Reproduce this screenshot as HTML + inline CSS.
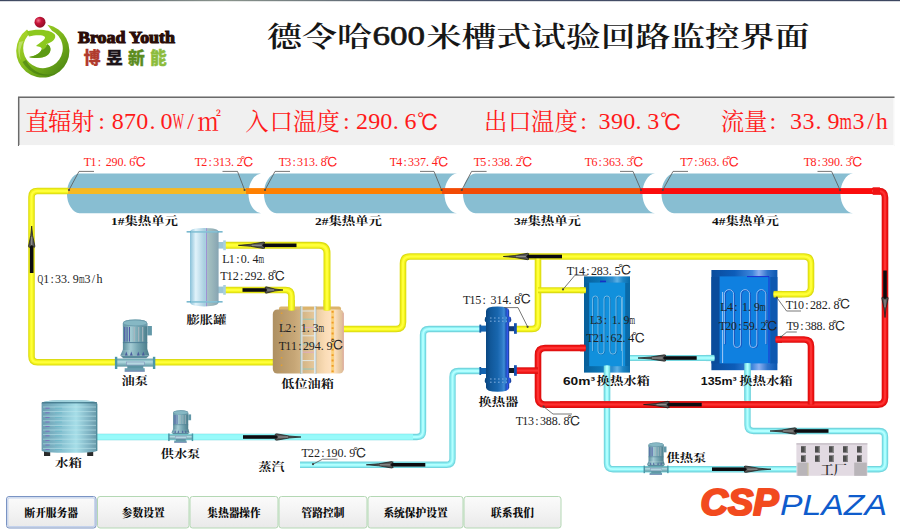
<!DOCTYPE html>
<html lang="zh-CN">
<head>
<meta charset="utf-8">
<title>德令哈600米槽式试验回路监控界面</title>
<style>
html,body{margin:0;padding:0;background:#fff;}
body{width:900px;height:530px;overflow:hidden;}
svg{display:block;}
</style>
</head>
<body>
<svg width="900" height="530" viewBox="0 0 900 530">
<rect width="900" height="530" fill="#ffffff"/>
<defs>
<linearGradient id="gExp" x1="0" x2="1" y1="0" y2="0">
 <stop offset="0" stop-color="#88c0d8"/><stop offset="0.2" stop-color="#e0f2fa"/><stop offset="0.5" stop-color="#a9cfe0"/>
 <stop offset="0.555" stop-color="#a9cfe0"/><stop offset="0.57" stop-color="#9c84d8"/><stop offset="0.6" stop-color="#a6c2c4"/><stop offset="0.75" stop-color="#9cb8bc"/><stop offset="1" stop-color="#86a4b2"/>
</linearGradient>
<linearGradient id="gOil" x1="0" x2="1" y1="0" y2="0">
 <stop offset="0" stop-color="#ae9062"/><stop offset="0.3" stop-color="#c6a676"/><stop offset="0.55" stop-color="#e2c496"/>
 <stop offset="0.74" stop-color="#fadcb6"/><stop offset="0.86" stop-color="#ffe4c6"/><stop offset="0.94" stop-color="#e8caa2"/><stop offset="1" stop-color="#dcb898"/>
</linearGradient>
<linearGradient id="gHE" x1="0" x2="1" y1="0" y2="0">
 <stop offset="0" stop-color="#0a4680"/><stop offset="0.2" stop-color="#11589a"/><stop offset="0.5" stop-color="#1866ae"/>
 <stop offset="0.68" stop-color="#2c78c4"/><stop offset="0.78" stop-color="#3e8ed6"/><stop offset="0.86" stop-color="#1c54b4"/><stop offset="0.93" stop-color="#3458ec"/><stop offset="0.97" stop-color="#1c44b0"/><stop offset="1" stop-color="#0a3474"/>
</linearGradient>
<linearGradient id="gT60" x1="0" x2="1" y1="0" y2="0">
 <stop offset="0" stop-color="#07609c"/><stop offset="0.35" stop-color="#0b74b4"/><stop offset="0.62" stop-color="#2f8fd0"/>
 <stop offset="0.72" stop-color="#5fb0e4"/><stop offset="0.85" stop-color="#1c84c4"/><stop offset="1" stop-color="#0a6aa8"/>
</linearGradient>
<linearGradient id="gT135" x1="0" x2="1" y1="0" y2="0">
 <stop offset="0" stop-color="#0a4c9c"/><stop offset="0.35" stop-color="#0d5cb8"/><stop offset="0.62" stop-color="#3f86dc"/>
 <stop offset="0.72" stop-color="#8cb0f0"/><stop offset="0.85" stop-color="#2f74cc"/><stop offset="1" stop-color="#0c58b0"/>
</linearGradient>
<linearGradient id="gPump" x1="0" x2="1" y1="0" y2="0">
 <stop offset="0" stop-color="#5a8c9c"/><stop offset="0.32" stop-color="#a4ccd4"/><stop offset="0.6" stop-color="#78a8b4"/><stop offset="1" stop-color="#4c7e8c"/>
</linearGradient>
<linearGradient id="gPumpH" x1="0" x2="0" y1="0" y2="1">
 <stop offset="0" stop-color="#5e9aa6"/><stop offset="0.4" stop-color="#b4dce2"/><stop offset="1" stop-color="#5a94a0"/>
</linearGradient>
<linearGradient id="gWT" x1="0" x2="1" y1="0" y2="0">
 <stop offset="0" stop-color="#6a9cb0"/><stop offset="0.35" stop-color="#86c0d0"/><stop offset="0.62" stop-color="#a6dee8"/><stop offset="0.85" stop-color="#80b4c4"/><stop offset="1" stop-color="#6898a8"/>
</linearGradient>
<linearGradient id="gBtn" x1="0" x2="0" y1="0" y2="1">
 <stop offset="0" stop-color="#fbfbfb"/><stop offset="0.5" stop-color="#f3f3f3"/><stop offset="1" stop-color="#e9e9e9"/>
</linearGradient>
<linearGradient id="gRing" x1="0" x2="1" y1="0" y2="1">
 <stop offset="0" stop-color="#b6e02c"/><stop offset="0.5" stop-color="#7fb81c"/><stop offset="1" stop-color="#3f7a10"/>
</linearGradient>
<radialGradient id="gBall" cx="0.35" cy="0.35" r="0.7">
 <stop offset="0" stop-color="#f07088"/><stop offset="0.4" stop-color="#c41438"/><stop offset="1" stop-color="#8c0c24"/>
</radialGradient>
<linearGradient id="gTop" x1="0" x2="1" y1="0" y2="0">
 <stop offset="0" stop-color="#3c4660"/><stop offset="0.25" stop-color="#8a948c"/><stop offset="0.5" stop-color="#465068"/><stop offset="1" stop-color="#3c4660"/>
</linearGradient>
</defs>
<rect x="0" y="0" width="900" height="1.2" fill="url(#gTop)"/>
<g id="logo">
<path d="M47.4 24.8 A26.6 26.6 0 1 1 27 29.6 L30.2 33.2 A19.8 19.8 0 1 0 52 30.7 Z" fill="url(#gRing)"/>
<path d="M22.5 62 A26.6 26.6 0 0 0 58 72.5 A24 24 0 0 1 26 60 Z" fill="#356c10" opacity="0.5"/>
<path d="M19.2 42 A26 26 0 0 0 20.6 60 A22 24 0 0 1 23.6 41 Z" fill="#d6ec9c" opacity="0.55"/>
<path d="M26.6 31.6 C36 28.4 50 29.2 54.6 34.2 C57.2 38.4 52 42.6 46 44.2 C51 45.6 52 50.8 48 54.8 C43.4 58.8 34 58.4 29 57 C35 56.4 40.6 53.2 41.6 49.6 C42.4 47.2 38.6 46.6 36 46 C39.6 43 45 40.2 45 37.6 C45 35 37 34.4 29 36.4 Z" fill="#8cc81e"/>
<path d="M47 44 C51 45.6 52 50.8 48 54.8 C43.4 58.8 34 58.4 29 57 C35 56.4 40.6 53.2 41.6 49.6 C44 50 47 47 47 44 Z" fill="#5c9a14"/>
<circle cx="40" cy="22.2" r="5.5" fill="url(#gBall)"/>
</g>
<text x="78.0" y="42.6" font-family='"Liberation Serif",serif' font-size="16.5" font-weight="700" fill="#2a0c08" textLength="97.0" lengthAdjust="spacingAndGlyphs" text-anchor="start" stroke="#2a0c08" stroke-width="1.1" xml:space="preserve">Broad Youth</text>
<text y="63.9" font-family='"Liberation Sans","Noto Sans CJK SC",sans-serif' font-size="16.8" font-weight="900" stroke-width="0.3"><tspan x="83.8" fill="#b03a2c" stroke="#b03a2c">博</tspan><tspan x="105.9" fill="#1c1418" stroke="#1c1418">昱</tspan><tspan x="128.0" fill="#5c8c20" stroke="#5c8c20">新</tspan><tspan x="150.1" fill="#8cbc3c" stroke="#8cbc3c">能</tspan></text>
<text font-family='"Liberation Serif","Noto Serif CJK SC",serif' font-size="28" font-weight="600" fill="#161616"><tspan x="267" y="46.6" textLength="105" lengthAdjust="spacingAndGlyphs">德令哈</tspan><tspan x="372.4" y="45.4" font-size="27" font-weight="400" stroke="#161616" stroke-width="0.6" textLength="52.6" lengthAdjust="spacingAndGlyphs">600</tspan><tspan x="426.6" y="46.6" textLength="383" lengthAdjust="spacingAndGlyphs">米槽式试验回路监控界面</tspan></text>
<rect x="18" y="96.5" width="876.5" height="49.5" fill="#f0f0f0"/>
<path d="M18.7 146 V97.2 H894.5" fill="none" stroke="#6a6a6a" stroke-width="1.5"/>
<path d="M19 145.6 H894 V98" fill="none" stroke="#ffffff" stroke-width="1"/>
<text text-anchor="middle" font-family='"Liberation Serif","Noto Serif CJK SC",serif' fill="#ff1a1a"><tspan y="130.2" font-size="23.4" x="37.0 59.6 82.6">直辐射</tspan><tspan y="128.8" font-size="24" x="101.5 117.8 130.0 142.2 152.4 166.6">:870.0</tspan><tspan text-anchor="start" y="128.8" font-size="24" x="172.8" textLength="11.2" lengthAdjust="spacingAndGlyphs">W</tspan><tspan y="128.8" font-size="24" x="190.6">/</tspan><tspan y="130.2" font-size="23.4" x="209.2">㎡</tspan></text>
<text text-anchor="middle" font-family='"Liberation Serif","Noto Serif CJK SC",serif' fill="#ff1a1a"><tspan y="130.2" font-size="23.4" x="257.0 281.2 304.6 328.3">入口温度</tspan><tspan y="128.8" font-size="24" x="346.4 361.9 374.2 386.2 395.8 410.5">:290.6</tspan><tspan y="130.6" font-size="22.4" font-family='"Liberation Serif","IPAGothic",serif' x="428.2">℃</tspan></text>
<text text-anchor="middle" font-family='"Liberation Serif","Noto Serif CJK SC",serif' fill="#ff1a1a"><tspan y="130.2" font-size="23.4" x="495.8 519.6 542.7 566.2">出口温度</tspan><tspan y="128.8" font-size="24" x="583.6 604.6 617.1 629.2 638.6 653.2">:390.3</tspan><tspan y="130.6" font-size="22.4" font-family='"Liberation Serif","IPAGothic",serif' x="671.1">℃</tspan></text>
<text text-anchor="middle" font-family='"Liberation Serif","Noto Serif CJK SC",serif' fill="#ff1a1a"><tspan y="130.2" font-size="23.4" x="732.5 755.7">流量</tspan><tspan y="128.8" font-size="24" x="772.8 796.0 808.5 818.5 833.5">:33.9</tspan><tspan text-anchor="start" y="128.8" font-size="24" x="839.5" textLength="12.4" lengthAdjust="spacingAndGlyphs">m</tspan><tspan y="128.8" font-size="24" x="858.5 870.7 881.8">3/h</tspan></text>
<path d="M79.5 173.6 H261.0 A13.5 19.9 0 0 0 261.0 213.3 H79.5 A13.5 19.9 0 0 1 79.5 173.6 Z" fill="#88bed2"/>
<path d="M276.5 173.6 H457.0 A13.5 19.9 0 0 0 457.0 213.3 H276.5 A13.5 19.9 0 0 1 276.5 173.6 Z" fill="#88bed2"/>
<path d="M475.5 173.6 H655.0 A13.5 19.9 0 0 0 655.0 213.3 H475.5 A13.5 19.9 0 0 1 475.5 173.6 Z" fill="#88bed2"/>
<path d="M674.0 173.6 H853.0 A13.5 19.9 0 0 0 853.0 213.3 H674.0 A13.5 19.9 0 0 1 674.0 173.6 Z" fill="#88bed2"/>
<rect x="66.0" y="188.1" width="180.0" height="5.9" fill="#f7b922"/>
<rect x="246.0" y="188.1" width="196.0" height="5.9" fill="#ff8000"/>
<rect x="442.0" y="188.1" width="198.0" height="5.9" fill="#f24a04"/>
<rect x="640.0" y="188.1" width="233.0" height="5.9" fill="#fb0c0c"/>
<path d="M97.00 437.00 L417.00 437.00 Q423.00 437.00 423.00 431.00 L423.00 335.00 Q423.00 329.00 429.00 329.00 L481.00 329.00" fill="none" stroke="#74d6de" stroke-width="6.4" stroke-linejoin="round"/>
<path d="M97.00 437.00 L417.00 437.00 Q423.00 437.00 423.00 431.00 L423.00 335.00 Q423.00 329.00 429.00 329.00 L481.00 329.00" fill="none" stroke="#8cf0f4" stroke-width="4.2" stroke-linejoin="round"/>
<path d="M97.00 437.00 L417.00 437.00 Q423.00 437.00 423.00 431.00 L423.00 335.00 Q423.00 329.00 429.00 329.00 L481.00 329.00" fill="none" stroke="#b4ffff" stroke-width="1.8" stroke-linejoin="round"/>
<rect x="97" y="434.1" width="316" height="5.9" fill="#98fafa"/><rect x="97" y="434.1" width="316" height="1" fill="#8af4f6"/><rect x="97" y="439.2" width="316" height="0.8" fill="#8af0f2"/>
<path d="M300.00 464.80 L446.50 464.80 Q452.50 464.80 452.50 458.80 L452.50 377.00 Q452.50 371.00 458.50 371.00 L481.00 371.00" fill="none" stroke="#74d6de" stroke-width="6.4" stroke-linejoin="round"/>
<path d="M300.00 464.80 L446.50 464.80 Q452.50 464.80 452.50 458.80 L452.50 377.00 Q452.50 371.00 458.50 371.00 L481.00 371.00" fill="none" stroke="#8cf0f4" stroke-width="4.2" stroke-linejoin="round"/>
<path d="M300.00 464.80 L446.50 464.80 Q452.50 464.80 452.50 458.80 L452.50 377.00 Q452.50 371.00 458.50 371.00 L481.00 371.00" fill="none" stroke="#b4ffff" stroke-width="1.8" stroke-linejoin="round"/>
<path d="M629.00 358.00 L713.00 358.00" fill="none" stroke="#74d6de" stroke-width="6.2" stroke-linejoin="round"/>
<path d="M629.00 358.00 L713.00 358.00" fill="none" stroke="#8cf0f4" stroke-width="4.0" stroke-linejoin="round"/>
<path d="M629.00 358.00 L713.00 358.00" fill="none" stroke="#b4ffff" stroke-width="1.6" stroke-linejoin="round"/>
<path d="M607.00 366.00 L607.00 463.20 Q607.00 469.20 613.00 469.20 L797.00 469.20" fill="none" stroke="#74d6de" stroke-width="6.4" stroke-linejoin="round"/>
<path d="M607.00 366.00 L607.00 463.20 Q607.00 469.20 613.00 469.20 L797.00 469.20" fill="none" stroke="#8cf0f4" stroke-width="4.2" stroke-linejoin="round"/>
<path d="M607.00 366.00 L607.00 463.20 Q607.00 469.20 613.00 469.20 L797.00 469.20" fill="none" stroke="#b4ffff" stroke-width="1.8" stroke-linejoin="round"/>
<path d="M867.00 469.20 L879.00 469.20 Q885.00 469.20 885.00 463.20 L885.00 437.00 Q885.00 431.00 879.00 431.00 L753.50 431.00 Q747.50 431.00 747.50 425.00 L747.50 364.00" fill="none" stroke="#74d6de" stroke-width="6.4" stroke-linejoin="round"/>
<path d="M867.00 469.20 L879.00 469.20 Q885.00 469.20 885.00 463.20 L885.00 437.00 Q885.00 431.00 879.00 431.00 L753.50 431.00 Q747.50 431.00 747.50 425.00 L747.50 364.00" fill="none" stroke="#8cf0f4" stroke-width="4.2" stroke-linejoin="round"/>
<path d="M867.00 469.20 L879.00 469.20 Q885.00 469.20 885.00 463.20 L885.00 437.00 Q885.00 431.00 879.00 431.00 L753.50 431.00 Q747.50 431.00 747.50 425.00 L747.50 364.00" fill="none" stroke="#b4ffff" stroke-width="1.8" stroke-linejoin="round"/>
<path d="M68.00 191.00 L37.50 191.00 Q31.50 191.00 31.50 197.00 L31.50 356.20 Q31.50 362.20 37.50 362.20 L116.00 362.20" fill="none" stroke="#dcdc14" stroke-width="6.6" stroke-linejoin="round"/>
<path d="M68.00 191.00 L37.50 191.00 Q31.50 191.00 31.50 197.00 L31.50 356.20 Q31.50 362.20 37.50 362.20 L116.00 362.20" fill="none" stroke="#f4f41c" stroke-width="4.4" stroke-linejoin="round"/>
<path d="M68.00 191.00 L37.50 191.00 Q31.50 191.00 31.50 197.00 L31.50 356.20 Q31.50 362.20 37.50 362.20 L116.00 362.20" fill="none" stroke="#ffff3c" stroke-width="2.0" stroke-linejoin="round"/>
<path d="M155.00 362.20 L274.00 362.20" fill="none" stroke="#dcdc14" stroke-width="6.6" stroke-linejoin="round"/>
<path d="M155.00 362.20 L274.00 362.20" fill="none" stroke="#f4f41c" stroke-width="4.4" stroke-linejoin="round"/>
<path d="M155.00 362.20 L274.00 362.20" fill="none" stroke="#ffff3c" stroke-width="2.0" stroke-linejoin="round"/>
<path d="M225.00 245.30 L319.00 245.30 Q327.00 245.30 327.00 253.30 L327.00 308.00" fill="none" stroke="#dcdc14" stroke-width="7.0" stroke-linejoin="round"/>
<path d="M225.00 245.30 L319.00 245.30 Q327.00 245.30 327.00 253.30 L327.00 308.00" fill="none" stroke="#f4f41c" stroke-width="4.8" stroke-linejoin="round"/>
<path d="M225.00 245.30 L319.00 245.30 Q327.00 245.30 327.00 253.30 L327.00 308.00" fill="none" stroke="#ffff3c" stroke-width="2.4" stroke-linejoin="round"/>
<path d="M225.00 290.00 L285.50 290.00 Q291.50 290.00 291.50 296.00 L291.50 308.00" fill="none" stroke="#dcdc14" stroke-width="6.6" stroke-linejoin="round"/>
<path d="M225.00 290.00 L285.50 290.00 Q291.50 290.00 291.50 296.00 L291.50 308.00" fill="none" stroke="#f4f41c" stroke-width="4.4" stroke-linejoin="round"/>
<path d="M225.00 290.00 L285.50 290.00 Q291.50 290.00 291.50 296.00 L291.50 308.00" fill="none" stroke="#ffff3c" stroke-width="2.0" stroke-linejoin="round"/>
<path d="M343.00 329.00 L396.00 329.00 Q403.00 329.00 403.00 322.00 L403.00 263.50 Q403.00 256.50 410.00 256.50 L804.00 256.50 Q811.00 256.50 811.00 263.50 L811.00 287.20 Q811.00 294.20 804.00 294.20 L776.00 294.20" fill="none" stroke="#dcdc14" stroke-width="6.6" stroke-linejoin="round"/>
<path d="M343.00 329.00 L396.00 329.00 Q403.00 329.00 403.00 322.00 L403.00 263.50 Q403.00 256.50 410.00 256.50 L804.00 256.50 Q811.00 256.50 811.00 263.50 L811.00 287.20 Q811.00 294.20 804.00 294.20 L776.00 294.20" fill="none" stroke="#f4f41c" stroke-width="4.4" stroke-linejoin="round"/>
<path d="M343.00 329.00 L396.00 329.00 Q403.00 329.00 403.00 322.00 L403.00 263.50 Q403.00 256.50 410.00 256.50 L804.00 256.50 Q811.00 256.50 811.00 263.50 L811.00 287.20 Q811.00 294.20 804.00 294.20 L776.00 294.20" fill="none" stroke="#ffff3c" stroke-width="2.0" stroke-linejoin="round"/>
<path d="M538.00 256.50 L538.00 323.00 Q538.00 329.00 532.00 329.00 L516.00 329.00" fill="none" stroke="#dcdc14" stroke-width="6.6" stroke-linejoin="round"/>
<path d="M538.00 256.50 L538.00 323.00 Q538.00 329.00 532.00 329.00 L516.00 329.00" fill="none" stroke="#f4f41c" stroke-width="4.4" stroke-linejoin="round"/>
<path d="M538.00 256.50 L538.00 323.00 Q538.00 329.00 532.00 329.00 L516.00 329.00" fill="none" stroke="#ffff3c" stroke-width="2.0" stroke-linejoin="round"/>
<path d="M538.00 290.20 L585.00 290.20" fill="none" stroke="#dcdc14" stroke-width="6.0" stroke-linejoin="round"/>
<path d="M538.00 290.20 L585.00 290.20" fill="none" stroke="#f4f41c" stroke-width="3.8" stroke-linejoin="round"/>
<path d="M538.00 290.20 L585.00 290.20" fill="none" stroke="#ffff3c" stroke-width="1.4" stroke-linejoin="round"/>
<path d="M872.00 191.00 L878.50 191.00 Q885.00 191.00 885.00 197.50 L885.00 397.60 Q885.00 404.60 878.00 404.60 L545.00 404.60 Q538.00 404.60 538.00 397.60 L538.00 355.00 Q538.00 348.00 545.00 348.00 L585.00 348.00" fill="none" stroke="#dc1010" stroke-width="6.6" stroke-linejoin="round"/>
<path d="M872.00 191.00 L878.50 191.00 Q885.00 191.00 885.00 197.50 L885.00 397.60 Q885.00 404.60 878.00 404.60 L545.00 404.60 Q538.00 404.60 538.00 397.60 L538.00 355.00 Q538.00 348.00 545.00 348.00 L585.00 348.00" fill="none" stroke="#f41616" stroke-width="4.4" stroke-linejoin="round"/>
<path d="M872.00 191.00 L878.50 191.00 Q885.00 191.00 885.00 197.50 L885.00 397.60 Q885.00 404.60 878.00 404.60 L545.00 404.60 Q538.00 404.60 538.00 397.60 L538.00 355.00 Q538.00 348.00 545.00 348.00 L585.00 348.00" fill="none" stroke="#fb3232" stroke-width="2.0" stroke-linejoin="round"/>
<path d="M516.00 370.60 L538.00 370.60" fill="none" stroke="#dc1010" stroke-width="6.6" stroke-linejoin="round"/>
<path d="M516.00 370.60 L538.00 370.60" fill="none" stroke="#f41616" stroke-width="4.4" stroke-linejoin="round"/>
<path d="M516.00 370.60 L538.00 370.60" fill="none" stroke="#fb3232" stroke-width="2.0" stroke-linejoin="round"/>
<path d="M776.00 339.50 L804.00 339.50 Q811.00 339.50 811.00 346.50 L811.00 404.60" fill="none" stroke="#dc1010" stroke-width="6.6" stroke-linejoin="round"/>
<path d="M776.00 339.50 L804.00 339.50 Q811.00 339.50 811.00 346.50 L811.00 404.60" fill="none" stroke="#f41616" stroke-width="4.4" stroke-linejoin="round"/>
<path d="M776.00 339.50 L804.00 339.50 Q811.00 339.50 811.00 346.50 L811.00 404.60" fill="none" stroke="#fb3232" stroke-width="2.0" stroke-linejoin="round"/>
<rect x="873" y="187.4" width="7" height="7.4" fill="#f01414"/>
<rect x="29.9" y="245.3" width="3.6" height="27.7" fill="#0c0c10"/>
<polygon points="31.7,226.0 30.7,235.7 28.5,246.2 29.1,247.5 31.7,245.3 34.3,247.5 34.9,246.2 32.7,235.7" fill="#565656" stroke="#141414" stroke-width="0.7" stroke-linejoin="round"/>
<line x1="31.7" y1="236.8" x2="31.7" y2="244.9" stroke="#8e8e8e" stroke-width="1.2"/>
<rect x="262.3" y="243.5" width="34.2" height="3.6" fill="#0c0c10"/>
<polygon points="238.3,245.3 250.3,244.3 263.4,242.1 265.0,242.7 262.3,245.3 265.0,247.9 263.4,248.5 250.3,246.3" fill="#565656" stroke="#141414" stroke-width="0.7" stroke-linejoin="round"/>
<line x1="251.7" y1="245.3" x2="261.8" y2="245.3" stroke="#8e8e8e" stroke-width="1.2"/>
<rect x="242.5" y="288.2" width="24.3" height="3.6" fill="#0c0c10"/>
<polygon points="283.0,290.0 274.9,289.0 266.1,286.8 265.0,287.4 266.8,290.0 265.0,292.6 266.1,293.2 274.9,291.0" fill="#565656" stroke="#141414" stroke-width="0.7" stroke-linejoin="round"/>
<line x1="274.0" y1="290.0" x2="267.2" y2="290.0" stroke="#8e8e8e" stroke-width="1.2"/>
<rect x="526.4" y="254.7" width="35.6" height="3.6" fill="#0c0c10"/>
<polygon points="503.3,256.5 514.9,255.5 527.5,253.3 529.0,253.9 526.4,256.5 529.0,259.1 527.5,259.7 514.9,257.5" fill="#565656" stroke="#141414" stroke-width="0.7" stroke-linejoin="round"/>
<line x1="516.1" y1="256.5" x2="525.9" y2="256.5" stroke="#8e8e8e" stroke-width="1.2"/>
<rect x="663.2" y="356.2" width="33.5" height="3.6" fill="#0c0c10"/>
<polygon points="638.0,358.0 650.6,357.0 664.3,354.8 666.0,355.4 663.2,358.0 666.0,360.6 664.3,361.2 650.6,359.0" fill="#565656" stroke="#141414" stroke-width="0.7" stroke-linejoin="round"/>
<line x1="652.0" y1="358.0" x2="662.6" y2="358.0" stroke="#8e8e8e" stroke-width="1.2"/>
<rect x="883.2" y="270.5" width="3.6" height="28.6" fill="#0c0c10"/>
<polygon points="885.0,317.5 884.0,308.3 881.8,298.2 882.4,297.0 885.0,299.1 887.6,297.0 888.2,298.2 886.0,308.3" fill="#565656" stroke="#141414" stroke-width="0.7" stroke-linejoin="round"/>
<line x1="885.0" y1="307.2" x2="885.0" y2="299.5" stroke="#8e8e8e" stroke-width="1.2"/>
<rect x="666.9" y="402.8" width="34.8" height="3.6" fill="#0c0c10"/>
<polygon points="643.5,404.6 655.2,403.6 667.9,401.4 669.5,402.0 666.9,404.6 669.5,407.2 667.9,407.8 655.2,405.6" fill="#565656" stroke="#141414" stroke-width="0.7" stroke-linejoin="round"/>
<line x1="656.5" y1="404.6" x2="666.4" y2="404.6" stroke="#8e8e8e" stroke-width="1.2"/>
<rect x="243.0" y="435.2" width="34.6" height="3.6" fill="#0c0c10"/>
<polygon points="301.0,437.0 289.3,436.0 276.6,433.8 275.0,434.4 277.6,437.0 275.0,439.6 276.6,440.2 289.3,438.0" fill="#565656" stroke="#141414" stroke-width="0.7" stroke-linejoin="round"/>
<line x1="288.0" y1="437.0" x2="278.1" y2="437.0" stroke="#8e8e8e" stroke-width="1.2"/>
<rect x="390.6" y="463.0" width="34.7" height="3.6" fill="#0c0c10"/>
<polygon points="366.3,464.8 378.4,463.8 391.7,461.6 393.3,462.2 390.6,464.8 393.3,467.4 391.7,468.0 378.4,465.8" fill="#565656" stroke="#141414" stroke-width="0.7" stroke-linejoin="round"/>
<line x1="379.8" y1="464.8" x2="390.1" y2="464.8" stroke="#8e8e8e" stroke-width="1.2"/>
<rect x="793.9" y="429.2" width="34.6" height="3.6" fill="#0c0c10"/>
<polygon points="770.0,431.0 781.9,430.0 794.9,427.8 796.5,428.4 793.9,431.0 796.5,433.6 794.9,434.2 781.9,432.0" fill="#565656" stroke="#141414" stroke-width="0.7" stroke-linejoin="round"/>
<line x1="783.2" y1="431.0" x2="793.3" y2="431.0" stroke="#8e8e8e" stroke-width="1.2"/>
<rect x="712.0" y="467.4" width="34.7" height="3.6" fill="#0c0c10"/>
<polygon points="771.0,469.2 758.9,468.2 745.6,466.0 744.0,466.6 746.7,469.2 744.0,471.8 745.6,472.4 758.9,470.2" fill="#565656" stroke="#141414" stroke-width="0.7" stroke-linejoin="round"/>
<line x1="757.5" y1="469.2" x2="747.2" y2="469.2" stroke="#8e8e8e" stroke-width="1.2"/>
<g id="exp">
<rect x="218" y="242" width="6.4" height="6.6" fill="#9cc6d6"/><rect x="223.2" y="240.4" width="2.6" height="9.8" fill="#a8d0de"/>
<rect x="218" y="286.6" width="6.4" height="6.6" fill="#9cc6d6"/><rect x="223.2" y="285" width="2.6" height="9.8" fill="#a8d0de"/>
<path d="M190 232 Q190 228 204.3 228 Q218.6 228 218.6 232 V302 Q218.6 306.4 204.3 306.4 Q190 306.4 190 302 Z" fill="url(#gExp)"/>
<rect x="186.6" y="231.2" width="36" height="1.3" fill="#5aa8c4"/><rect x="186.6" y="301.2" width="36" height="1.3" fill="#5aa8c4"/>
<rect x="191" y="231.2" width="26.6" height="1.3" fill="#a4d4e4" opacity="0.7"/><rect x="191" y="301.2" width="26.6" height="1.3" fill="#a4d4e4" opacity="0.7"/>
</g>
<g id="oil">
<rect x="279" y="306.4" width="62" height="6" rx="2" fill="#dcb46c"/>
<rect x="272.8" y="309.4" width="71" height="64.2" rx="4.5" fill="url(#gOil)"/>
<rect x="342.6" y="313" width="1.2" height="57" fill="#e0a8a0" opacity="0.7"/>
<line x1="281.6" y1="312.6" x2="281.6" y2="372" stroke="#e4a030" stroke-width="1.5" stroke-dasharray="1.5 5.9"/>
<rect x="331.2" y="310" width="3" height="63" fill="#facc6c" opacity="0.85"/>
<line x1="332.6" y1="311" x2="332.6" y2="372" stroke="#ee9a28" stroke-width="2" stroke-dasharray="1.8 3.6"/>
<line x1="302" y1="311.0" x2="315" y2="311.0" stroke="#e4ecec" stroke-width="0.9"/>
<line x1="302" y1="319.2" x2="315" y2="319.2" stroke="#8cc8c0" stroke-width="0.9"/>
<line x1="302" y1="327.4" x2="315" y2="327.4" stroke="#e0a8c8" stroke-width="0.9"/>
<line x1="302" y1="335.8" x2="315" y2="335.8" stroke="#e4ecec" stroke-width="0.9"/>
<line x1="302" y1="344.0" x2="315" y2="344.0" stroke="#8cc8c0" stroke-width="0.9"/>
<line x1="302" y1="352.2" x2="315" y2="352.2" stroke="#e0a8c8" stroke-width="0.9"/>
<line x1="302" y1="360.6" x2="315" y2="360.6" stroke="#e4ecec" stroke-width="0.9"/>
<line x1="302" y1="369.0" x2="315" y2="369.0" stroke="#8cc8c0" stroke-width="0.9"/>
<rect x="300.6" y="306" width="2" height="68" fill="#d4dede"/><rect x="314" y="306" width="2" height="68" fill="#e2eaea"/>
<line x1="300.6" y1="306" x2="300.6" y2="374" stroke="#7cb0a8" stroke-width="0.5"/><line x1="316" y1="306" x2="316" y2="374" stroke="#88a8b8" stroke-width="0.5"/>
</g>
<path d="M327.00 300.00 L327.00 310.40" fill="none" stroke="#dcdc14" stroke-width="7.0" stroke-linejoin="round"/>
<path d="M327.00 300.00 L327.00 310.40" fill="none" stroke="#f4f41c" stroke-width="4.8" stroke-linejoin="round"/>
<path d="M327.00 300.00 L327.00 310.40" fill="none" stroke="#ffff3c" stroke-width="2.4" stroke-linejoin="round"/>
<path d="M291.50 300.00 L291.50 310.40" fill="none" stroke="#dcdc14" stroke-width="6.6" stroke-linejoin="round"/>
<path d="M291.50 300.00 L291.50 310.40" fill="none" stroke="#f4f41c" stroke-width="4.4" stroke-linejoin="round"/>
<path d="M291.50 300.00 L291.50 310.40" fill="none" stroke="#ffff3c" stroke-width="2.0" stroke-linejoin="round"/>
<g transform="translate(135.3 362.6) scale(1.000)">
<rect x="-8" y="3" width="16" height="4" fill="#5c94a4"/>
<rect x="-10.6" y="5.6" width="20" height="3.4" fill="#6aa0b0"/><rect x="-10.6" y="8" width="20" height="1" fill="#7c88b8"/>
<rect x="-19.4" y="-4" width="38.6" height="8" fill="url(#gPumpH)"/>
<rect x="-20.4" y="-5.8" width="2.4" height="12.2" fill="#4c98a8"/><rect x="17.6" y="-5.8" width="2.4" height="12.2" fill="#4c98a8"/>
<rect x="-9" y="-0.6" width="18" height="3" fill="#b4d8e0" stroke="#7a84b4" stroke-width="0.5"/>
<path d="M-12.4 -13 L-15 -7 H14 L12.2 -13 Z" fill="url(#gPump)"/>
<path d="M-15 -7 H14 L11 -4.4 H-12 Z" fill="#5a8c9c"/>
<path d="M-10.4 -7 L-9.0 -11 L-7.6 -7 Z" fill="#4a5c9c"/>
<path d="M-5.4 -7 L-4.0 -11 L-2.6 -7 Z" fill="#4a5c9c"/>
<path d="M1.6 -7 L3.0 -11 L4.4 -7 Z" fill="#4a5c9c"/>
<path d="M6.6 -7 L8.0 -11 L9.4 -7 Z" fill="#4a5c9c"/>
<path d="M-12.4 -39 Q-12.4 -43.2 -0.2 -43.2 Q12 -43.2 12 -39 V-12.6 H-12.4 Z" fill="url(#gPump)"/>
<path d="M-12.4 -39 Q-12.4 -43.2 -0.2 -43.2 Q12 -43.2 12 -39 V-36.4 H-12.4 Z" fill="#6c9cac"/>
<ellipse cx="-0.2" cy="-39.6" rx="11.6" ry="2.6" fill="#86b8c4"/>
<line x1="-10.6" y1="-35.6" x2="-10.6" y2="-21" stroke="#5058a8" stroke-width="1"/>
<line x1="-8.2" y1="-35.6" x2="-8.2" y2="-21" stroke="#5058a8" stroke-width="1"/>
<line x1="-5.8" y1="-35.6" x2="-5.8" y2="-21" stroke="#5058a8" stroke-width="1"/>
<line x1="-1.0" y1="-35.6" x2="-1.0" y2="-21" stroke="#aab8c0" stroke-width="1.1"/>
<line x1="3.4" y1="-35.6" x2="3.4" y2="-21" stroke="#aab8c0" stroke-width="1.1"/>
<line x1="7.4" y1="-35.6" x2="7.4" y2="-21" stroke="#aab8c0" stroke-width="1.1"/>
<line x1="-12.4" y1="-20" x2="12" y2="-20" stroke="#4c7c94" stroke-width="0.9"/>
<rect x="12" y="-36.6" width="4.6" height="9.4" fill="#6298a8"/>
</g>
<g transform="translate(180.8 437.1) scale(0.620)">
<rect x="-8" y="3" width="16" height="4" fill="#5c94a4"/>
<rect x="-10.6" y="5.6" width="20" height="3.4" fill="#6aa0b0"/><rect x="-10.6" y="8" width="20" height="1" fill="#7c88b8"/>
<rect x="-19.4" y="-4" width="38.6" height="8" fill="url(#gPumpH)"/>
<rect x="-20.4" y="-5.8" width="2.4" height="12.2" fill="#4c98a8"/><rect x="17.6" y="-5.8" width="2.4" height="12.2" fill="#4c98a8"/>
<rect x="-9" y="-0.6" width="18" height="3" fill="#b4d8e0" stroke="#7a84b4" stroke-width="0.5"/>
<path d="M-12.4 -13 L-15 -7 H14 L12.2 -13 Z" fill="url(#gPump)"/>
<path d="M-15 -7 H14 L11 -4.4 H-12 Z" fill="#5a8c9c"/>
<path d="M-10.4 -7 L-9.0 -11 L-7.6 -7 Z" fill="#4a5c9c"/>
<path d="M-5.4 -7 L-4.0 -11 L-2.6 -7 Z" fill="#4a5c9c"/>
<path d="M1.6 -7 L3.0 -11 L4.4 -7 Z" fill="#4a5c9c"/>
<path d="M6.6 -7 L8.0 -11 L9.4 -7 Z" fill="#4a5c9c"/>
<path d="M-12.4 -39 Q-12.4 -43.2 -0.2 -43.2 Q12 -43.2 12 -39 V-12.6 H-12.4 Z" fill="url(#gPump)"/>
<path d="M-12.4 -39 Q-12.4 -43.2 -0.2 -43.2 Q12 -43.2 12 -39 V-36.4 H-12.4 Z" fill="#6c9cac"/>
<ellipse cx="-0.2" cy="-39.6" rx="11.6" ry="2.6" fill="#86b8c4"/>
<line x1="-10.6" y1="-35.6" x2="-10.6" y2="-21" stroke="#5058a8" stroke-width="1"/>
<line x1="-8.2" y1="-35.6" x2="-8.2" y2="-21" stroke="#5058a8" stroke-width="1"/>
<line x1="-5.8" y1="-35.6" x2="-5.8" y2="-21" stroke="#5058a8" stroke-width="1"/>
<line x1="-1.0" y1="-35.6" x2="-1.0" y2="-21" stroke="#aab8c0" stroke-width="1.1"/>
<line x1="3.4" y1="-35.6" x2="3.4" y2="-21" stroke="#aab8c0" stroke-width="1.1"/>
<line x1="7.4" y1="-35.6" x2="7.4" y2="-21" stroke="#aab8c0" stroke-width="1.1"/>
<line x1="-12.4" y1="-20" x2="12" y2="-20" stroke="#4c7c94" stroke-width="0.9"/>
<rect x="12" y="-36.6" width="4.6" height="9.4" fill="#6298a8"/>
</g>
<g transform="translate(656.2 469.2) scale(0.620)">
<rect x="-8" y="3" width="16" height="4" fill="#5c94a4"/>
<rect x="-10.6" y="5.6" width="20" height="3.4" fill="#6aa0b0"/><rect x="-10.6" y="8" width="20" height="1" fill="#7c88b8"/>
<rect x="-19.4" y="-4" width="38.6" height="8" fill="url(#gPumpH)"/>
<rect x="-20.4" y="-5.8" width="2.4" height="12.2" fill="#4c98a8"/><rect x="17.6" y="-5.8" width="2.4" height="12.2" fill="#4c98a8"/>
<rect x="-9" y="-0.6" width="18" height="3" fill="#b4d8e0" stroke="#7a84b4" stroke-width="0.5"/>
<path d="M-12.4 -13 L-15 -7 H14 L12.2 -13 Z" fill="url(#gPump)"/>
<path d="M-15 -7 H14 L11 -4.4 H-12 Z" fill="#5a8c9c"/>
<path d="M-10.4 -7 L-9.0 -11 L-7.6 -7 Z" fill="#4a5c9c"/>
<path d="M-5.4 -7 L-4.0 -11 L-2.6 -7 Z" fill="#4a5c9c"/>
<path d="M1.6 -7 L3.0 -11 L4.4 -7 Z" fill="#4a5c9c"/>
<path d="M6.6 -7 L8.0 -11 L9.4 -7 Z" fill="#4a5c9c"/>
<path d="M-12.4 -39 Q-12.4 -43.2 -0.2 -43.2 Q12 -43.2 12 -39 V-12.6 H-12.4 Z" fill="url(#gPump)"/>
<path d="M-12.4 -39 Q-12.4 -43.2 -0.2 -43.2 Q12 -43.2 12 -39 V-36.4 H-12.4 Z" fill="#6c9cac"/>
<ellipse cx="-0.2" cy="-39.6" rx="11.6" ry="2.6" fill="#86b8c4"/>
<line x1="-10.6" y1="-35.6" x2="-10.6" y2="-21" stroke="#5058a8" stroke-width="1"/>
<line x1="-8.2" y1="-35.6" x2="-8.2" y2="-21" stroke="#5058a8" stroke-width="1"/>
<line x1="-5.8" y1="-35.6" x2="-5.8" y2="-21" stroke="#5058a8" stroke-width="1"/>
<line x1="-1.0" y1="-35.6" x2="-1.0" y2="-21" stroke="#aab8c0" stroke-width="1.1"/>
<line x1="3.4" y1="-35.6" x2="3.4" y2="-21" stroke="#aab8c0" stroke-width="1.1"/>
<line x1="7.4" y1="-35.6" x2="7.4" y2="-21" stroke="#aab8c0" stroke-width="1.1"/>
<line x1="-12.4" y1="-20" x2="12" y2="-20" stroke="#4c7c94" stroke-width="0.9"/>
<rect x="12" y="-36.6" width="4.6" height="9.4" fill="#6298a8"/>
</g>
<g id="wt">
<rect x="44" y="450.6" width="6.2" height="5.4" fill="#2a2a2a"/><rect x="87.2" y="450.6" width="6" height="5.4" fill="#2a2a2a"/>
<path d="M41.6 403.6 Q41.6 400 69.4 400 Q97.2 400 97.2 403.6 V450.4 Q97.2 452.8 69.4 452.8 Q41.6 452.8 41.6 450.4 Z" fill="url(#gWT)"/>
<path d="M41.8 403.2 Q44 400 69.4 400 Q94.8 400 97 403.2 Q97 401.8 69.4 401.8 Q41.8 401.8 41.8 403.2 Z" fill="#a4d4de"/>
<line x1="41.8" y1="402.8" x2="97" y2="402.8" stroke="#34687c" stroke-width="1"/>
<line x1="96.8" y1="404" x2="96.8" y2="451" stroke="#3c8090" stroke-width="0.8"/>
<line x1="43" y1="407.0" x2="96" y2="407.0" stroke="#c0e8ee" stroke-width="1" opacity="0.55"/>
<line x1="45.4" y1="408.2" x2="49.6" y2="408.2" stroke="#8050c0" stroke-width="0.8" opacity="0.8"/>
<line x1="55" y1="408.2" x2="62" y2="408.2" stroke="#58b8c8" stroke-width="0.8" opacity="0.5"/>
<line x1="43" y1="411.6" x2="96" y2="411.6" stroke="#c0e8ee" stroke-width="1" opacity="0.55"/>
<line x1="45.4" y1="412.8" x2="49.6" y2="412.8" stroke="#8050c0" stroke-width="0.8" opacity="0.8"/>
<line x1="55" y1="412.8" x2="62" y2="412.8" stroke="#58b8c8" stroke-width="0.8" opacity="0.5"/>
<line x1="43" y1="416.2" x2="96" y2="416.2" stroke="#c0e8ee" stroke-width="1" opacity="0.55"/>
<line x1="45.4" y1="417.4" x2="49.6" y2="417.4" stroke="#8050c0" stroke-width="0.8" opacity="0.8"/>
<line x1="55" y1="417.4" x2="62" y2="417.4" stroke="#58b8c8" stroke-width="0.8" opacity="0.5"/>
<line x1="43" y1="420.8" x2="96" y2="420.8" stroke="#c0e8ee" stroke-width="1" opacity="0.55"/>
<line x1="45.4" y1="422.0" x2="49.6" y2="422.0" stroke="#8050c0" stroke-width="0.8" opacity="0.8"/>
<line x1="55" y1="422.0" x2="62" y2="422.0" stroke="#58b8c8" stroke-width="0.8" opacity="0.5"/>
<line x1="43" y1="425.4" x2="96" y2="425.4" stroke="#c0e8ee" stroke-width="1" opacity="0.55"/>
<line x1="45.4" y1="426.6" x2="49.6" y2="426.6" stroke="#8050c0" stroke-width="0.8" opacity="0.8"/>
<line x1="55" y1="426.6" x2="62" y2="426.6" stroke="#58b8c8" stroke-width="0.8" opacity="0.5"/>
<line x1="43" y1="430.0" x2="96" y2="430.0" stroke="#c0e8ee" stroke-width="1" opacity="0.55"/>
<line x1="45.4" y1="431.2" x2="49.6" y2="431.2" stroke="#8050c0" stroke-width="0.8" opacity="0.8"/>
<line x1="55" y1="431.2" x2="62" y2="431.2" stroke="#58b8c8" stroke-width="0.8" opacity="0.5"/>
<line x1="43" y1="434.6" x2="96" y2="434.6" stroke="#c0e8ee" stroke-width="1" opacity="0.55"/>
<line x1="45.4" y1="435.8" x2="49.6" y2="435.8" stroke="#8050c0" stroke-width="0.8" opacity="0.8"/>
<line x1="55" y1="435.8" x2="62" y2="435.8" stroke="#58b8c8" stroke-width="0.8" opacity="0.5"/>
<line x1="43" y1="439.2" x2="96" y2="439.2" stroke="#c0e8ee" stroke-width="1" opacity="0.55"/>
<line x1="45.4" y1="440.4" x2="49.6" y2="440.4" stroke="#8050c0" stroke-width="0.8" opacity="0.8"/>
<line x1="55" y1="440.4" x2="62" y2="440.4" stroke="#58b8c8" stroke-width="0.8" opacity="0.5"/>
<line x1="43" y1="443.8" x2="96" y2="443.8" stroke="#c0e8ee" stroke-width="1" opacity="0.55"/>
<line x1="45.4" y1="445.0" x2="49.6" y2="445.0" stroke="#8050c0" stroke-width="0.8" opacity="0.8"/>
<line x1="55" y1="445.0" x2="62" y2="445.0" stroke="#58b8c8" stroke-width="0.8" opacity="0.5"/>
<line x1="43" y1="448.4" x2="96" y2="448.4" stroke="#c0e8ee" stroke-width="1" opacity="0.55"/>
<line x1="45.4" y1="449.6" x2="49.6" y2="449.6" stroke="#8050c0" stroke-width="0.8" opacity="0.8"/>
<line x1="55" y1="449.6" x2="62" y2="449.6" stroke="#58b8c8" stroke-width="0.8" opacity="0.5"/>
</g>
<g id="he">
<rect x="480" y="325.6" width="7" height="6" fill="#1464b0"/><rect x="479.4" y="324.6" width="1.8" height="8" fill="#0f58a4"/>
<rect x="480" y="368" width="7" height="6" fill="#1464b0"/><rect x="479.4" y="367" width="1.8" height="8" fill="#0f58a4"/>
<rect x="508" y="326.2" width="7" height="5" fill="#123a78"/><rect x="514" y="323.2" width="2.8" height="10.6" fill="#1450b0"/>
<rect x="508" y="368" width="7" height="5" fill="#101c28"/><rect x="514" y="365.2" width="2.8" height="10.6" fill="#1450b0"/>
<path d="M486 311 Q486 306.6 497.6 306.6 Q509.2 306.6 509.2 311 V387.6 Q509.2 391.8 497.6 391.8 Q486 391.8 486 387.6 Z" fill="url(#gHE)"/>
<rect x="484.8" y="316.6" width="26.4" height="6" rx="2.4" fill="url(#gHE)"/>
<line x1="490" y1="318.0" x2="507" y2="318.0" stroke="#8cb8e8" stroke-width="0.9" stroke-dasharray="1.6 2.4"/>
<line x1="490" y1="321.2" x2="507" y2="321.2" stroke="#8cb8e8" stroke-width="0.9" stroke-dasharray="1.6 2.4"/>
<rect x="484.8" y="377.6" width="26.4" height="6" rx="2.4" fill="url(#gHE)"/>
<line x1="490" y1="379.0" x2="507" y2="379.0" stroke="#8cb8e8" stroke-width="0.9" stroke-dasharray="1.6 2.4"/>
<line x1="490" y1="382.2" x2="507" y2="382.2" stroke="#8cb8e8" stroke-width="0.9" stroke-dasharray="1.6 2.4"/>
</g>
<g id="t60">
<rect x="584" y="276.4" width="46" height="96.2" fill="url(#gT60)"/>
<rect x="584" y="283" width="5.4" height="83" fill="#07609c"/><rect x="625" y="283" width="5" height="83" fill="#0a6aa8"/>
<rect x="589.2" y="282.6" width="36" height="83.6" fill="#1190dc"/>
<rect x="600" y="280.6" width="6" height="1.6" fill="#1430c8"/>
<path d="M593.3 351.3 V299.2 A2.7 2.7 0 0 1 598.7 299.2 V351.3" fill="none" stroke="#0c64a8" stroke-width="0.8"/>
<path d="M604.7 351.3 V299.4 A2.9 2.9 0 0 1 610.5 299.4 V351.3" fill="none" stroke="#0c64a8" stroke-width="0.8"/>
<path d="M616.7 351.3 V299.3 A2.8 2.8 0 0 1 622.3 299.3 V351.3" fill="none" stroke="#0c64a8" stroke-width="0.8"/>
<path d="M598.7 351.3 A3.0 3.0 0 0 0 604.7 351.3" fill="none" stroke="#0c64a8" stroke-width="0.8"/>
<path d="M610.5 351.3 A3.1 3.1 0 0 0 616.7 351.3" fill="none" stroke="#0c64a8" stroke-width="0.8"/>
<path d="M592.6 351.0 V298.7 A2.7 2.7 0 0 1 598.0 298.7 V351.0" fill="none" stroke="#8cc8ec" stroke-width="0.8"/>
<path d="M604.0 351.0 V298.9 A2.9 2.9 0 0 1 609.8 298.9 V351.0" fill="none" stroke="#8cc8ec" stroke-width="0.8"/>
<path d="M616.0 351.0 V298.8 A2.8 2.8 0 0 1 621.6 298.8 V351.0" fill="none" stroke="#8cc8ec" stroke-width="0.8"/>
<path d="M598.0 351.0 A3.0 3.0 0 0 0 604.0 351.0" fill="none" stroke="#8cc8ec" stroke-width="0.8"/>
<path d="M609.8 351.0 A3.1 3.1 0 0 0 616.0 351.0" fill="none" stroke="#8cc8ec" stroke-width="0.8"/>
<line x1="622.4" y1="297" x2="622.4" y2="366" stroke="#8cc8ec" stroke-width="0.7"/>
</g>
<g id="t135">
<rect x="711.4" y="270" width="66" height="100.2" fill="url(#gT135)"/>
<rect x="711.4" y="277" width="8.4" height="86.4" fill="#0a4c9c"/><rect x="770" y="277" width="7.4" height="86.4" fill="#0d58b0"/>
<rect x="719.6" y="276.4" width="50.6" height="87" fill="#0f80e0"/>
<path d="M747 276.6 H769 V363" fill="none" stroke="#1c30d0" stroke-width="1"/>
<line x1="722.6" y1="292" x2="722.6" y2="363" stroke="#b4d0f8" stroke-width="0.9"/>
<path d="M725.3 344.4 V294.8 A4.6 4.6 0 0 1 734.5 294.8 V344.4" fill="none" stroke="#1448b8" stroke-width="0.9"/>
<path d="M741.5 344.4 V294.7 A4.5 4.5 0 0 1 750.5 294.7 V344.4" fill="none" stroke="#1448b8" stroke-width="0.9"/>
<path d="M757.7 344.4 V294.7 A4.5 4.5 0 0 1 766.7 294.7 V344.4" fill="none" stroke="#1448b8" stroke-width="0.9"/>
<path d="M734.5 344.4 A3.5 3.5 0 0 0 741.5 344.4" fill="none" stroke="#1448b8" stroke-width="0.9"/>
<path d="M750.5 344.4 A3.6 3.6 0 0 0 757.7 344.4" fill="none" stroke="#1448b8" stroke-width="0.9"/>
<path d="M724.4 344.0 V294.2 A4.6 4.6 0 0 1 733.6 294.2 V344.0" fill="none" stroke="#9cc4f4" stroke-width="0.9"/>
<path d="M740.6 344.0 V294.1 A4.5 4.5 0 0 1 749.6 294.1 V344.0" fill="none" stroke="#9cc4f4" stroke-width="0.9"/>
<path d="M756.8 344.0 V294.1 A4.5 4.5 0 0 1 765.8 294.1 V344.0" fill="none" stroke="#9cc4f4" stroke-width="0.9"/>
<path d="M733.6 344.0 A3.5 3.5 0 0 0 740.6 344.0" fill="none" stroke="#9cc4f4" stroke-width="0.9"/>
<path d="M749.6 344.0 A3.6 3.6 0 0 0 756.8 344.0" fill="none" stroke="#9cc4f4" stroke-width="0.9"/>
</g>
<path d="M773.60 294.20 L782.00 294.20" fill="none" stroke="#dcdc14" stroke-width="6.6" stroke-linejoin="round"/>
<path d="M773.60 294.20 L782.00 294.20" fill="none" stroke="#f4f41c" stroke-width="4.4" stroke-linejoin="round"/>
<path d="M773.60 294.20 L782.00 294.20" fill="none" stroke="#ffff3c" stroke-width="2.0" stroke-linejoin="round"/>
<path d="M775.60 339.50 L782.00 339.50" fill="none" stroke="#dc1010" stroke-width="6.6" stroke-linejoin="round"/>
<path d="M775.60 339.50 L782.00 339.50" fill="none" stroke="#f41616" stroke-width="4.4" stroke-linejoin="round"/>
<path d="M775.60 339.50 L782.00 339.50" fill="none" stroke="#fb3232" stroke-width="2.0" stroke-linejoin="round"/>
<path d="M706.00 358.00 L714.40 358.00" fill="none" stroke="#74d6de" stroke-width="6.2" stroke-linejoin="round"/>
<path d="M706.00 358.00 L714.40 358.00" fill="none" stroke="#8cf0f4" stroke-width="4.0" stroke-linejoin="round"/>
<path d="M706.00 358.00 L714.40 358.00" fill="none" stroke="#b4ffff" stroke-width="1.6" stroke-linejoin="round"/>
<path d="M580.00 290.20 L585.80 290.20" fill="none" stroke="#dcdc14" stroke-width="6.0" stroke-linejoin="round"/>
<path d="M580.00 290.20 L585.80 290.20" fill="none" stroke="#f4f41c" stroke-width="3.8" stroke-linejoin="round"/>
<path d="M580.00 290.20 L585.80 290.20" fill="none" stroke="#ffff3c" stroke-width="1.4" stroke-linejoin="round"/>
<path d="M580.00 348.00 L585.60 348.00" fill="none" stroke="#dc1010" stroke-width="6.6" stroke-linejoin="round"/>
<path d="M580.00 348.00 L585.60 348.00" fill="none" stroke="#f41616" stroke-width="4.4" stroke-linejoin="round"/>
<path d="M580.00 348.00 L585.60 348.00" fill="none" stroke="#fb3232" stroke-width="2.0" stroke-linejoin="round"/>
<path d="M607.00 365.60 L607.00 400.00" fill="none" stroke="#74d6de" stroke-width="6.4" stroke-linejoin="round"/>
<path d="M607.00 365.60 L607.00 400.00" fill="none" stroke="#8cf0f4" stroke-width="4.2" stroke-linejoin="round"/>
<path d="M607.00 365.60 L607.00 400.00" fill="none" stroke="#b4ffff" stroke-width="1.8" stroke-linejoin="round"/>
<path d="M747.50 363.20 L747.50 400.00" fill="none" stroke="#74d6de" stroke-width="6.4" stroke-linejoin="round"/>
<path d="M747.50 363.20 L747.50 400.00" fill="none" stroke="#8cf0f4" stroke-width="4.2" stroke-linejoin="round"/>
<path d="M747.50 363.20 L747.50 400.00" fill="none" stroke="#b4ffff" stroke-width="1.8" stroke-linejoin="round"/>
<path d="M560.00 404.60 L800.00 404.60" fill="none" stroke="#dc1010" stroke-width="6.6" stroke-linejoin="round"/>
<path d="M560.00 404.60 L800.00 404.60" fill="none" stroke="#f41616" stroke-width="4.4" stroke-linejoin="round"/>
<path d="M560.00 404.60 L800.00 404.60" fill="none" stroke="#fb3232" stroke-width="2.0" stroke-linejoin="round"/>
<rect x="666.9" y="402.8" width="34.8" height="3.6" fill="#0c0c10"/>
<polygon points="643.5,404.6 655.2,403.6 667.9,401.4 669.5,402.0 666.9,404.6 669.5,407.2 667.9,407.8 655.2,405.6" fill="#565656" stroke="#141414" stroke-width="0.7" stroke-linejoin="round"/>
<line x1="656.5" y1="404.6" x2="666.4" y2="404.6" stroke="#8e8e8e" stroke-width="1.2"/>
<g id="fac">
<rect x="796.4" y="443.4" width="71" height="32.4" fill="#e2dae2"/>
<rect x="796.4" y="443.4" width="71" height="1" fill="#b8b0b8"/>
<rect x="801.0" y="446.2" width="5" height="6.4" fill="#4e4e4e"/>
<rect x="804.6" y="446.2" width="1.4" height="6.4" fill="#8a8a8a"/>
<rect x="801.0" y="455.4" width="5" height="6.4" fill="#4e4e4e"/>
<rect x="804.6" y="455.4" width="1.4" height="6.4" fill="#8a8a8a"/>
<rect x="815.0" y="446.2" width="5" height="6.4" fill="#4e4e4e"/>
<rect x="818.6" y="446.2" width="1.4" height="6.4" fill="#8a8a8a"/>
<rect x="815.0" y="455.4" width="5" height="6.4" fill="#4e4e4e"/>
<rect x="818.6" y="455.4" width="1.4" height="6.4" fill="#8a8a8a"/>
<rect x="829.0" y="446.2" width="5" height="6.4" fill="#4e4e4e"/>
<rect x="832.6" y="446.2" width="1.4" height="6.4" fill="#8a8a8a"/>
<rect x="829.0" y="455.4" width="5" height="6.4" fill="#4e4e4e"/>
<rect x="832.6" y="455.4" width="1.4" height="6.4" fill="#8a8a8a"/>
<rect x="843.0" y="446.2" width="5" height="6.4" fill="#4e4e4e"/>
<rect x="846.6" y="446.2" width="1.4" height="6.4" fill="#8a8a8a"/>
<rect x="843.0" y="455.4" width="5" height="6.4" fill="#4e4e4e"/>
<rect x="846.6" y="455.4" width="1.4" height="6.4" fill="#8a8a8a"/>
<rect x="857.0" y="446.2" width="5" height="6.4" fill="#4e4e4e"/>
<rect x="860.6" y="446.2" width="1.4" height="6.4" fill="#8a8a8a"/>
<rect x="857.0" y="455.4" width="5" height="6.4" fill="#4e4e4e"/>
<rect x="860.6" y="455.4" width="1.4" height="6.4" fill="#8a8a8a"/>
<rect x="797.4" y="462.6" width="11" height="13.2" fill="#b9b5b9"/><rect x="854.2" y="462.6" width="12.6" height="13.2" fill="#b9b5b9"/>
<line x1="808" y1="463" x2="808" y2="475.6" stroke="#d8d090" stroke-width="0.6"/>
</g>
<text x="820.6" y="473.6" font-family='"Liberation Serif","Noto Serif CJK SC",serif' font-size="13" font-weight="600" fill="#2c2c2c" textLength="26.4" lengthAdjust="spacingAndGlyphs">工厂</text>
<text text-anchor="middle" font-family='"Liberation Serif","Noto Serif CJK SC",serif' font-size="12" fill="#ff2020" xml:space="preserve"><tspan y="166.0" x="87.5 93.4 99.3 104.0 108.7 114.6 120.5 125.0 132.3">T1: 290.6</tspan><tspan text-anchor="start" font-family='"Liberation Serif","IPAGothic",serif' font-size="13.4" x="133.3" y="166.6">℃</tspan></text>
<text text-anchor="middle" font-family='"Liberation Serif","Noto Serif CJK SC",serif' font-size="12" fill="#ff2020" xml:space="preserve"><tspan y="166.0" x="198.4 204.3 210.2 216.2 222.1 228.0 232.5 239.8">T2:313.2</tspan><tspan text-anchor="start" font-family='"Liberation Serif","IPAGothic",serif' font-size="13.4" x="240.8" y="166.6">℃</tspan></text>
<text text-anchor="middle" font-family='"Liberation Serif","Noto Serif CJK SC",serif' font-size="12" fill="#ff2020" xml:space="preserve"><tspan y="166.0" x="282.4 288.3 294.2 300.1 306.0 311.9 316.4 323.7">T3:313.8</tspan><tspan text-anchor="start" font-family='"Liberation Serif","IPAGothic",serif' font-size="13.4" x="324.8" y="166.6">℃</tspan></text>
<text text-anchor="middle" font-family='"Liberation Serif","Noto Serif CJK SC",serif' font-size="12" fill="#ff2020" xml:space="preserve"><tspan y="166.0" x="393.4 399.3 405.2 411.1 417.0 422.9 427.4 434.7">T4:337.4</tspan><tspan text-anchor="start" font-family='"Liberation Serif","IPAGothic",serif' font-size="13.4" x="435.8" y="166.6">℃</tspan></text>
<text text-anchor="middle" font-family='"Liberation Serif","Noto Serif CJK SC",serif' font-size="12" fill="#ff2020" xml:space="preserve"><tspan y="166.0" x="477.4 483.3 489.2 495.1 501.0 506.9 511.4 518.7">T5:338.2</tspan><tspan text-anchor="start" font-family='"Liberation Serif","IPAGothic",serif' font-size="13.4" x="519.8" y="166.6">℃</tspan></text>
<text text-anchor="middle" font-family='"Liberation Serif","Noto Serif CJK SC",serif' font-size="12" fill="#ff2020" xml:space="preserve"><tspan y="166.0" x="588.5 594.4 600.2 606.1 612.0 617.9 622.4 629.7">T6:363.3</tspan><tspan text-anchor="start" font-family='"Liberation Serif","IPAGothic",serif' font-size="13.4" x="630.8" y="166.6">℃</tspan></text>
<text text-anchor="middle" font-family='"Liberation Serif","Noto Serif CJK SC",serif' font-size="12" fill="#ff2020" xml:space="preserve"><tspan y="166.0" x="684.0 689.9 695.8 701.6 707.5 713.4 717.9 725.2">T7:363.6</tspan><tspan text-anchor="start" font-family='"Liberation Serif","IPAGothic",serif' font-size="13.4" x="726.3" y="166.6">℃</tspan></text>
<text text-anchor="middle" font-family='"Liberation Serif","Noto Serif CJK SC",serif' font-size="12" fill="#ff2020" xml:space="preserve"><tspan y="166.0" x="807.5 813.4 819.2 825.1 831.0 836.9 841.4 848.7">T8:390.3</tspan><tspan text-anchor="start" font-family='"Liberation Serif","IPAGothic",serif' font-size="13.4" x="849.8" y="166.6">℃</tspan></text>
<polyline points="94.0,171.4 79.0,171.4 69.0,190.0" fill="none" stroke="#555" stroke-width="0.8"/>
<circle cx="69.0" cy="190.0" r="1.1" fill="#444"/>
<polyline points="222.5,171.4 237.5,171.4 244.6,190.0" fill="none" stroke="#555" stroke-width="0.8"/>
<circle cx="244.6" cy="190.0" r="1.1" fill="#444"/>
<polyline points="290.0,171.4 275.0,171.4 265.0,190.0" fill="none" stroke="#555" stroke-width="0.8"/>
<circle cx="265.0" cy="190.0" r="1.1" fill="#444"/>
<polyline points="420.0,171.4 434.0,171.4 441.6,190.0" fill="none" stroke="#555" stroke-width="0.8"/>
<circle cx="441.6" cy="190.0" r="1.1" fill="#444"/>
<polyline points="486.6,171.4 471.6,171.4 461.8,190.0" fill="none" stroke="#555" stroke-width="0.8"/>
<circle cx="461.8" cy="190.0" r="1.1" fill="#444"/>
<polyline points="620.0,171.4 633.0,171.4 641.0,190.0" fill="none" stroke="#555" stroke-width="0.8"/>
<circle cx="641.0" cy="190.0" r="1.1" fill="#444"/>
<polyline points="688.0,171.4 673.0,171.4 662.8,190.0" fill="none" stroke="#555" stroke-width="0.8"/>
<circle cx="662.8" cy="190.0" r="1.1" fill="#444"/>
<polyline points="817.5,171.4 831.6,171.4 840.0,190.0" fill="none" stroke="#555" stroke-width="0.8"/>
<circle cx="840.0" cy="190.0" r="1.1" fill="#444"/>
<text x="111.0" y="225.2" font-family='"Liberation Serif","Noto Serif CJK SC",serif' font-size="11.0" font-weight="700" fill="#111" textLength="67.0" lengthAdjust="spacingAndGlyphs" text-anchor="start" >1#集热单元</text>
<text x="315.0" y="225.2" font-family='"Liberation Serif","Noto Serif CJK SC",serif' font-size="11.0" font-weight="700" fill="#111" textLength="67.0" lengthAdjust="spacingAndGlyphs" text-anchor="start" >2#集热单元</text>
<text x="514.0" y="225.2" font-family='"Liberation Serif","Noto Serif CJK SC",serif' font-size="11.0" font-weight="700" fill="#111" textLength="67.0" lengthAdjust="spacingAndGlyphs" text-anchor="start" >3#集热单元</text>
<text x="712.0" y="225.2" font-family='"Liberation Serif","Noto Serif CJK SC",serif' font-size="11.0" font-weight="700" fill="#111" textLength="67.0" lengthAdjust="spacingAndGlyphs" text-anchor="start" >4#集热单元</text>
<text text-anchor="middle" font-family='"Liberation Serif","Noto Serif CJK SC",serif' font-size="12" fill="#222222" xml:space="preserve"><tspan text-anchor="start" x="37.5" y="283.0" textLength="5.6" lengthAdjust="spacingAndGlyphs">Q</tspan><tspan y="283.0" x="46.2 52.1 58.0 63.9 68.4 75.8">1:33.9</tspan><tspan text-anchor="start" x="78.9" y="283.0" textLength="5.6" lengthAdjust="spacingAndGlyphs">m</tspan><tspan y="283.0" x="87.6 93.5 99.4">3/h</tspan></text>
<text text-anchor="middle" font-family='"Liberation Serif","Noto Serif CJK SC",serif' font-size="12" fill="#222222" xml:space="preserve"><tspan y="263.4" x="225.9 231.8 237.8 243.7 248.2 255.5">L1:0.4</tspan><tspan text-anchor="start" x="258.6" y="263.4" textLength="5.6" lengthAdjust="spacingAndGlyphs">m</tspan></text>
<text text-anchor="middle" font-family='"Liberation Serif","Noto Serif CJK SC",serif' font-size="12" fill="#222222" xml:space="preserve"><tspan y="280.2" x="223.9 229.8 235.8 241.7 247.6 253.5 259.4 263.9 271.1">T12:292.8</tspan><tspan text-anchor="start" font-family='"Liberation Serif","IPAGothic",serif' font-size="13.4" x="272.2" y="280.8">℃</tspan></text>
<text text-anchor="middle" font-family='"Liberation Serif","Noto Serif CJK SC",serif' font-size="12" fill="#222222" xml:space="preserve"><tspan y="332.4" x="282.6 288.4 294.3 299.0 303.7 308.2 315.5">L2: 1.3</tspan><tspan text-anchor="start" x="318.6" y="332.4" textLength="5.6" lengthAdjust="spacingAndGlyphs">m</tspan></text>
<text text-anchor="middle" font-family='"Liberation Serif","Noto Serif CJK SC",serif' font-size="12" fill="#222222" xml:space="preserve"><tspan y="349.8" x="282.3 288.2 294.1 300.0 305.9 311.8 317.7 322.2 329.5">T11:294.9</tspan><tspan text-anchor="start" font-family='"Liberation Serif","IPAGothic",serif' font-size="13.4" x="330.6" y="350.4">℃</tspan></text>
<text text-anchor="middle" font-family='"Liberation Serif","Noto Serif CJK SC",serif' font-size="12" fill="#222222" xml:space="preserve"><tspan y="303.8" x="466.6 472.4 478.3 484.2 488.9 493.6 499.5 505.4 509.9 517.2">T15: 314.8</tspan><tspan text-anchor="start" font-family='"Liberation Serif","IPAGothic",serif' font-size="13.4" x="518.3" y="304.4">℃</tspan></text>
<text text-anchor="middle" font-family='"Liberation Serif","Noto Serif CJK SC",serif' font-size="12" fill="#222222" xml:space="preserve"><tspan y="274.6" x="570.4 576.2 582.1 588.0 593.9 599.8 605.7 610.2 617.5">T14:283.5</tspan><tspan text-anchor="start" font-family='"Liberation Serif","IPAGothic",serif' font-size="13.4" x="618.6" y="275.2">℃</tspan></text>
<text text-anchor="middle" font-family='"Liberation Serif","Noto Serif CJK SC",serif' font-size="12" fill="#222222" xml:space="preserve"><tspan y="324.2" x="593.6 599.5 605.4 610.0 614.8 619.2 626.5">L3: 1.9</tspan><tspan text-anchor="start" x="629.6" y="324.2" textLength="5.6" lengthAdjust="spacingAndGlyphs">m</tspan></text>
<text text-anchor="middle" font-family='"Liberation Serif","Noto Serif CJK SC",serif' font-size="12" fill="#222222" xml:space="preserve"><tspan y="342.4" x="590.0 595.9 601.8 607.6 613.5 619.4 623.9 631.2">T21:62.4</tspan><tspan text-anchor="start" font-family='"Liberation Serif","IPAGothic",serif' font-size="13.4" x="632.3" y="343.0">℃</tspan></text>
<text text-anchor="middle" font-family='"Liberation Serif","Noto Serif CJK SC",serif' font-size="12" fill="#222222" xml:space="preserve"><tspan y="311.0" x="724.0 729.9 735.8 740.4 745.1 749.6 756.9">L4: 1.9</tspan><tspan text-anchor="start" x="760.0" y="311.0" textLength="5.6" lengthAdjust="spacingAndGlyphs">m</tspan></text>
<text text-anchor="middle" font-family='"Liberation Serif","Noto Serif CJK SC",serif' font-size="12" fill="#222222" xml:space="preserve"><tspan y="330.2" x="722.4 728.2 734.1 740.0 745.9 751.8 756.3 763.6">T20:59.2</tspan><tspan text-anchor="start" font-family='"Liberation Serif","IPAGothic",serif' font-size="13.4" x="764.7" y="330.8">℃</tspan></text>
<text text-anchor="middle" font-family='"Liberation Serif","Noto Serif CJK SC",serif' font-size="12" fill="#222222" xml:space="preserve"><tspan y="308.8" x="789.4 795.2 801.1 807.0 812.9 818.8 824.7 829.2 836.5">T10:282.8</tspan><tspan text-anchor="start" font-family='"Liberation Serif","IPAGothic",serif' font-size="13.4" x="837.6" y="309.4">℃</tspan></text>
<text text-anchor="middle" font-family='"Liberation Serif","Noto Serif CJK SC",serif' font-size="12" fill="#222222" xml:space="preserve"><tspan y="330.0" x="790.2 796.1 802.0 807.9 813.8 819.6 824.1 831.4">T9:388.8</tspan><tspan text-anchor="start" font-family='"Liberation Serif","IPAGothic",serif' font-size="13.4" x="832.5" y="330.6">℃</tspan></text>
<text text-anchor="middle" font-family='"Liberation Serif","Noto Serif CJK SC",serif' font-size="12" fill="#222222" xml:space="preserve"><tspan y="425.0" x="519.4 525.2 531.1 537.0 542.9 548.8 554.7 559.2 566.5">T13:388.8</tspan><tspan text-anchor="start" font-family='"Liberation Serif","IPAGothic",serif' font-size="13.4" x="567.6" y="425.6">℃</tspan></text>
<text text-anchor="middle" font-family='"Liberation Serif","Noto Serif CJK SC",serif' font-size="12" fill="#222222" xml:space="preserve"><tspan y="457.4" x="305.1 311.0 316.9 322.8 328.7 334.6 340.5 345.0 352.3">T22:190.9</tspan><tspan text-anchor="start" font-family='"Liberation Serif","IPAGothic",serif' font-size="13.4" x="353.4" y="458.0">℃</tspan></text>
<polyline points="587.5,275.2 575.0,275.2 563.0,289.4" fill="none" stroke="#555" stroke-width="0.8"/>
<circle cx="563.0" cy="289.4" r="1.1" fill="#444"/>
<polyline points="504.0,307.6 518.0,307.6 527.6,326.8" fill="none" stroke="#555" stroke-width="0.8"/>
<circle cx="527.6" cy="326.8" r="1.1" fill="#444"/>
<polyline points="801.0,311.0 786.6,311.0 776.8,297.6" fill="none" stroke="#555" stroke-width="0.8"/>
<circle cx="776.8" cy="297.6" r="1.1" fill="#444"/>
<polyline points="796.8,332.0 786.8,332.0 781.0,336.8" fill="none" stroke="#555" stroke-width="0.8"/>
<circle cx="781.0" cy="336.8" r="1.1" fill="#444"/>
<polyline points="572.0,414.0 553.0,414.0 543.6,406.6" fill="none" stroke="#555" stroke-width="0.8"/>
<circle cx="543.6" cy="406.6" r="1.1" fill="#444"/>
<polyline points="337.5,459.2 322.5,459.2 313.0,464.2" fill="none" stroke="#555" stroke-width="0.8"/>
<circle cx="313.0" cy="464.2" r="1.1" fill="#444"/>
<text x="186.6" y="324.0" font-family='"Liberation Serif","Noto Serif CJK SC",serif' font-size="11.0" font-weight="700" fill="#111" textLength="39.8" lengthAdjust="spacingAndGlyphs" text-anchor="start" >膨胀罐</text>
<text x="121.6" y="385.3" font-family='"Liberation Serif","Noto Serif CJK SC",serif' font-size="11.0" font-weight="700" fill="#111" textLength="26.4" lengthAdjust="spacingAndGlyphs" text-anchor="start" >油泵</text>
<text x="281.3" y="388.0" font-family='"Liberation Serif","Noto Serif CJK SC",serif' font-size="11.0" font-weight="700" fill="#111" textLength="52.6" lengthAdjust="spacingAndGlyphs" text-anchor="start" >低位油箱</text>
<text x="478.4" y="406.0" font-family='"Liberation Serif","Noto Serif CJK SC",serif' font-size="11.0" font-weight="700" fill="#111" textLength="39.8" lengthAdjust="spacingAndGlyphs" text-anchor="start" >换热器</text>
<text x="55.0" y="467.3" font-family='"Liberation Serif","Noto Serif CJK SC",serif' font-size="11.0" font-weight="700" fill="#111" textLength="26.8" lengthAdjust="spacingAndGlyphs" text-anchor="start" >水箱</text>
<text x="160.8" y="458.3" font-family='"Liberation Serif","Noto Serif CJK SC",serif' font-size="11.0" font-weight="700" fill="#111" textLength="39.4" lengthAdjust="spacingAndGlyphs" text-anchor="start" >供水泵</text>
<text x="258.6" y="470.6" font-family='"Liberation Serif","Noto Serif CJK SC",serif' font-size="11.0" font-weight="700" fill="#111" textLength="25.8" lengthAdjust="spacingAndGlyphs" text-anchor="start" >蒸汽</text>
<text x="666.6" y="462.3" font-family='"Liberation Serif","Noto Serif CJK SC",serif' font-size="11.0" font-weight="700" fill="#111" textLength="39.6" lengthAdjust="spacingAndGlyphs" text-anchor="start" >供热泵</text>
<text font-weight="700" fill="#111" xml:space="preserve"><tspan x="563.0" y="385" font-family='"Liberation Sans",sans-serif' font-size="10.8" textLength="32.0" lengthAdjust="spacingAndGlyphs">60m³</tspan><tspan font-size="4"> </tspan><tspan x="596.6" y="385.1" font-family='"Liberation Serif","Noto Serif CJK SC",serif' font-size="11" textLength="53.2" lengthAdjust="spacingAndGlyphs">换热水箱</tspan></text>
<text font-weight="700" fill="#111" xml:space="preserve"><tspan x="700.8" y="385" font-family='"Liberation Sans",sans-serif' font-size="10.8" textLength="35.8" lengthAdjust="spacingAndGlyphs">135m³</tspan><tspan font-size="4"> </tspan><tspan x="739.2" y="385.1" font-family='"Liberation Serif","Noto Serif CJK SC",serif' font-size="11" textLength="53.4" lengthAdjust="spacingAndGlyphs">换热水箱</tspan></text>
<rect x="6.5" y="496.5" width="89.5" height="31.5" rx="2.5" fill="url(#gBtn)" stroke="#7a94c4" stroke-width="1"/>
<rect x="7.8" y="497.8" width="86.9" height="28.9" rx="2" fill="none" stroke="#c4d2ec" stroke-width="1.2"/>
<text x="51.2" y="517.0" font-family='"Liberation Serif","Noto Serif CJK SC",serif' font-size="11.5" font-weight="900" fill="#0c0c0c" textLength="53.5" lengthAdjust="spacingAndGlyphs" text-anchor="middle" >断开服务器</text>
<rect x="97.5" y="496.5" width="91.5" height="31.5" rx="2.5" fill="url(#gBtn)" stroke="#b4d8b4" stroke-width="1"/>
<text x="143.2" y="517.0" font-family='"Liberation Serif","Noto Serif CJK SC",serif' font-size="11.5" font-weight="900" fill="#0c0c0c" textLength="42.8" lengthAdjust="spacingAndGlyphs" text-anchor="middle" >参数设置</text>
<rect x="190.0" y="496.5" width="88.0" height="31.5" rx="2.5" fill="url(#gBtn)" stroke="#b4d8b4" stroke-width="1"/>
<text x="234.0" y="517.0" font-family='"Liberation Serif","Noto Serif CJK SC",serif' font-size="11.5" font-weight="900" fill="#0c0c0c" textLength="53.5" lengthAdjust="spacingAndGlyphs" text-anchor="middle" >集热器操作</text>
<rect x="279.0" y="496.5" width="88.0" height="31.5" rx="2.5" fill="url(#gBtn)" stroke="#b4d8b4" stroke-width="1"/>
<text x="323.0" y="517.0" font-family='"Liberation Serif","Noto Serif CJK SC",serif' font-size="11.5" font-weight="900" fill="#0c0c0c" textLength="42.8" lengthAdjust="spacingAndGlyphs" text-anchor="middle" >管路控制</text>
<rect x="368.0" y="496.5" width="95.0" height="31.5" rx="2.5" fill="url(#gBtn)" stroke="#b4d8b4" stroke-width="1"/>
<text x="415.5" y="517.0" font-family='"Liberation Serif","Noto Serif CJK SC",serif' font-size="11.5" font-weight="900" fill="#0c0c0c" textLength="64.2" lengthAdjust="spacingAndGlyphs" text-anchor="middle" >系统保护设置</text>
<rect x="464.0" y="496.5" width="97.0" height="31.5" rx="2.5" fill="url(#gBtn)" stroke="#b4d8b4" stroke-width="1"/>
<text x="512.5" y="517.0" font-family='"Liberation Serif","Noto Serif CJK SC",serif' font-size="11.5" font-weight="900" fill="#0c0c0c" textLength="42.8" lengthAdjust="spacingAndGlyphs" text-anchor="middle" >联系我们</text>
<text x="700.5" y="515.4" font-family='"Liberation Sans",sans-serif' font-size="37" font-weight="700" font-style="italic" fill="#f24a1e" stroke="#f24a1e" stroke-width="2.2" stroke-linejoin="round" textLength="78" lengthAdjust="spacingAndGlyphs">CSP</text>
<text x="780" y="514.8" font-family='"Liberation Sans",sans-serif' font-size="29.5" font-style="italic" fill="#0f5ccc" textLength="107" lengthAdjust="spacingAndGlyphs">PLAZA</text>
</svg>
</body>
</html>
